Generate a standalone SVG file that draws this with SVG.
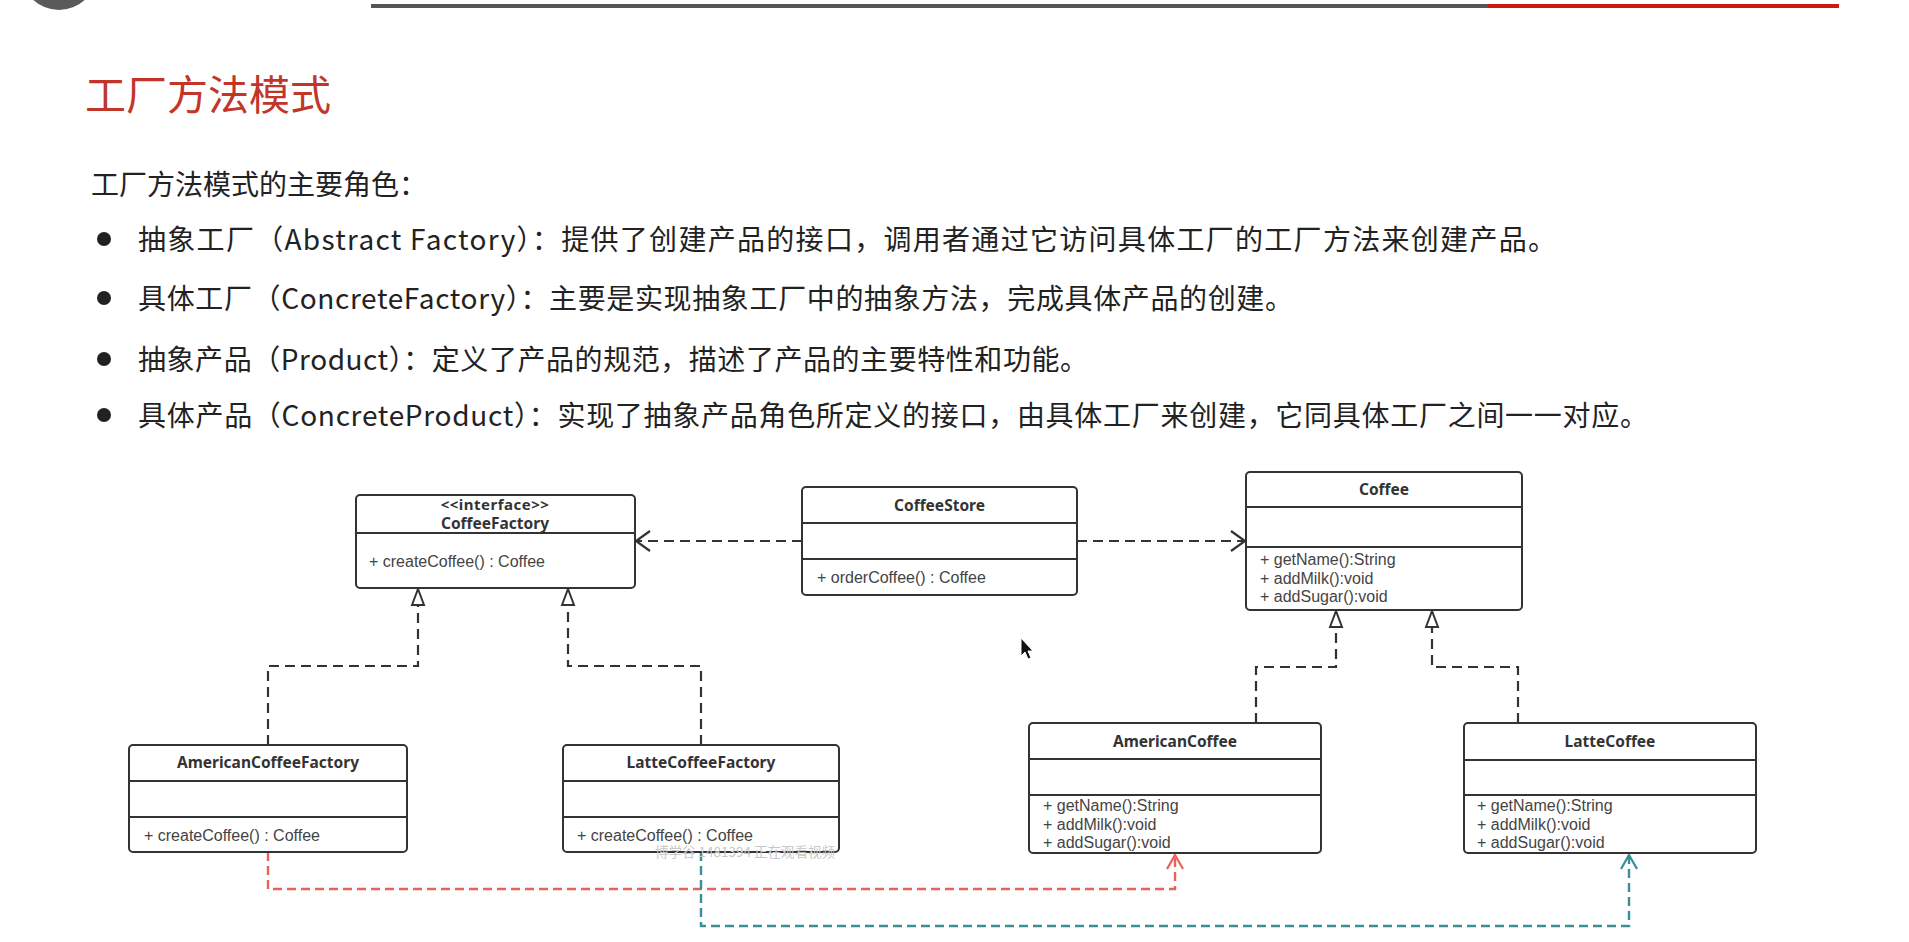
<svg xmlns="http://www.w3.org/2000/svg" width="1909" height="942" viewBox="0 0 1909 942">
<style>
.cn{font-family:"Noto Sans CJK SC","Noto Sans",sans-serif;fill:#222;}
.body{font-size:28px;}
.box{fill:#fff;stroke:#333;stroke-width:2;}
.div{stroke:#333;stroke-width:2;}
.t{font-family:"Noto Sans","Open Sans",sans-serif;font-size:15.5px;font-weight:bold;fill:#333;text-anchor:middle;}
.m{font-family:"Liberation Sans",Arial,sans-serif;font-size:16px;fill:#444;}
.dash{fill:none;stroke:#333;stroke-width:2.2;stroke-dasharray:10,6;}
.red{fill:none;stroke:#e8625a;stroke-width:2.4;stroke-dasharray:9,5;}
.teal{fill:none;stroke:#3a8e96;stroke-width:2.4;stroke-dasharray:9,5;}
</style>
<defs>
<marker id="open" markerUnits="userSpaceOnUse" markerWidth="20" markerHeight="24" refX="14" refY="10" orient="auto" overflow="visible">
<path d="M0,0 L14,10 L0,20" fill="none" stroke="#333" stroke-width="2.2" stroke-dasharray="none"/>
</marker>
<marker id="openRed" markerUnits="userSpaceOnUse" markerWidth="20" markerHeight="24" refX="14" refY="8" orient="auto" overflow="visible">
<path d="M0,0 L14,8 L0,16" fill="none" stroke="#e8625a" stroke-width="2.2" stroke-dasharray="none"/>
</marker>
<marker id="openTeal" markerUnits="userSpaceOnUse" markerWidth="20" markerHeight="24" refX="14" refY="8" orient="auto" overflow="visible">
<path d="M0,0 L14,8 L0,16" fill="none" stroke="#3a8e96" stroke-width="2.2" stroke-dasharray="none"/>
</marker>
<marker id="tri" markerUnits="userSpaceOnUse" markerWidth="20" markerHeight="16" refX="16" refY="6" orient="auto" overflow="visible">
<path d="M0,0 L16,6 L0,12 Z" fill="#fff" stroke="#333" stroke-width="2" stroke-dasharray="none"/>
</marker>
</defs>
<rect width="1909" height="942" fill="#fff"/>
<g id="header">
<circle cx="59" cy="-28" r="38" fill="#5a5a5a"/>
<rect x="371" y="4" width="1117" height="4" fill="#555"/>
<rect x="1488" y="4" width="351" height="4" fill="#cc1a12"/>
</g>
<g id="title">
<text class="cn" x="85" y="110" style="font-size:41px;fill:#c2362a">工厂方法模式</text>
</g>
<g id="roles">
<text class="cn body" x="91" y="195">工厂方法模式的主要角色：</text>
<circle cx="104" cy="239" r="7" fill="#222"/>
<text class="cn body" x="138" y="250" textLength="1418" lengthAdjust="spacing">抽象工厂（Abstract Factory）：提供了创建产品的接口，调用者通过它访问具体工厂的工厂方法来创建产品。</text>
<circle cx="104" cy="298" r="7" fill="#222"/>
<text class="cn body" x="138" y="309" textLength="1155" lengthAdjust="spacing">具体工厂（ConcreteFactory）：主要是实现抽象工厂中的抽象方法，完成具体产品的创建。</text>
<circle cx="104" cy="359" r="7" fill="#222"/>
<text class="cn body" x="138" y="370" textLength="950" lengthAdjust="spacing">抽象产品（Product）：定义了产品的规范，描述了产品的主要特性和功能。</text>
<circle cx="104" cy="415" r="7" fill="#222"/>
<text class="cn body" x="138" y="426" textLength="1510" lengthAdjust="spacing">具体产品（ConcreteProduct）：实现了抽象产品角色所定义的接口，由具体工厂来创建，它同具体工厂之间一一对应。</text>
</g>
<g id="connectors">
<path class="dash" d="M802,541 H636" marker-end="url(#open)"/>
<path class="dash" d="M1077,541 H1245" marker-end="url(#open)"/>
<path class="dash" d="M268,745 V666 H418 V589" marker-end="url(#tri)"/>
<path class="dash" d="M701,745 V666 H568 V589" marker-end="url(#tri)"/>
<path class="dash" d="M1256,723 V667 H1336 V611" marker-end="url(#tri)"/>
<path class="dash" d="M1518,723 V667 H1432 V611" marker-end="url(#tri)"/>
<path class="red" d="M268,852 V889 H1175 V855" marker-end="url(#openRed)"/>
<path class="teal" d="M701,852 V926 H1629 V855" marker-end="url(#openTeal)"/>
</g>
<g id="CoffeeFactory">
<rect class="box" x="356" y="495" width="279" height="93" rx="4"/>
<line class="div" x1="356" y1="533" x2="635" y2="533"/>
<text class="t" x="495" y="510" style="font-size:15px;letter-spacing:0.5px">&lt;&lt;interface&gt;&gt;</text>
<text class="t" x="495" y="529">CoffeeFactory</text>
<text class="m" x="369" y="567">+ createCoffee() : Coffee</text>
</g>
<g id="CoffeeStore">
<rect class="box" x="802" y="487" width="275" height="108" rx="4"/>
<line class="div" x1="802" y1="523" x2="1077" y2="523"/>
<line class="div" x1="802" y1="559" x2="1077" y2="559"/>
<text class="t" x="939.5" y="511">CoffeeStore</text>
<text class="m" x="817" y="583">+ orderCoffee() : Coffee</text>
</g>
<g id="Coffee">
<rect class="box" x="1246" y="472" width="276" height="138" rx="4"/>
<line class="div" x1="1246" y1="507" x2="1522" y2="507"/>
<line class="div" x1="1246" y1="547" x2="1522" y2="547"/>
<text class="t" x="1384" y="495">Coffee</text>
<text class="m" x="1260" y="565">+ getName():String</text>
<text class="m" x="1260" y="583.5">+ addMilk():void</text>
<text class="m" x="1260" y="602">+ addSugar():void</text>
</g>
<g id="AmericanCoffeeFactory">
<rect class="box" x="129" y="745" width="278" height="107" rx="4"/>
<line class="div" x1="129" y1="781" x2="407" y2="781"/>
<line class="div" x1="129" y1="817" x2="407" y2="817"/>
<text class="t" x="268" y="768">AmericanCoffeeFactory</text>
<text class="m" x="144" y="841">+ createCoffee() : Coffee</text>
</g>
<g id="LatteCoffeeFactory">
<rect class="box" x="563" y="745" width="276" height="107" rx="4"/>
<line class="div" x1="563" y1="781" x2="839" y2="781"/>
<line class="div" x1="563" y1="817" x2="839" y2="817"/>
<text class="t" x="701" y="768">LatteCoffeeFactory</text>
<text class="m" x="577" y="841">+ createCoffee() : Coffee</text>
</g>
<g id="AmericanCoffee">
<rect class="box" x="1029" y="723" width="292" height="130" rx="4"/>
<line class="div" x1="1029" y1="759" x2="1321" y2="759"/>
<line class="div" x1="1029" y1="795" x2="1321" y2="795"/>
<text class="t" x="1175" y="747">AmericanCoffee</text>
<text class="m" x="1043" y="811">+ getName():String</text>
<text class="m" x="1043" y="829.5">+ addMilk():void</text>
<text class="m" x="1043" y="848">+ addSugar():void</text>
</g>
<g id="LatteCoffee">
<rect class="box" x="1464" y="723" width="292" height="130" rx="4"/>
<line class="div" x1="1464" y1="760" x2="1756" y2="760"/>
<line class="div" x1="1464" y1="795" x2="1756" y2="795"/>
<text class="t" x="1610" y="747">LatteCoffee</text>
<text class="m" x="1477" y="811">+ getName():String</text>
<text class="m" x="1477" y="829.5">+ addMilk():void</text>
<text class="m" x="1477" y="848">+ addSugar():void</text>
</g>
<g id="watermark">
<text class="cn" x="655" y="857" style="font-size:13.5px;fill:#c8c8c8">博学谷 1481394 正在观看视频</text>
</g>
<g id="cursor">
<path d="M1021,638 L1021,656 L1025,652 L1028,659 L1031,658 L1028,651 L1033,651 Z" fill="#111" stroke="#fff" stroke-width="1"/>
</g>
</svg>
